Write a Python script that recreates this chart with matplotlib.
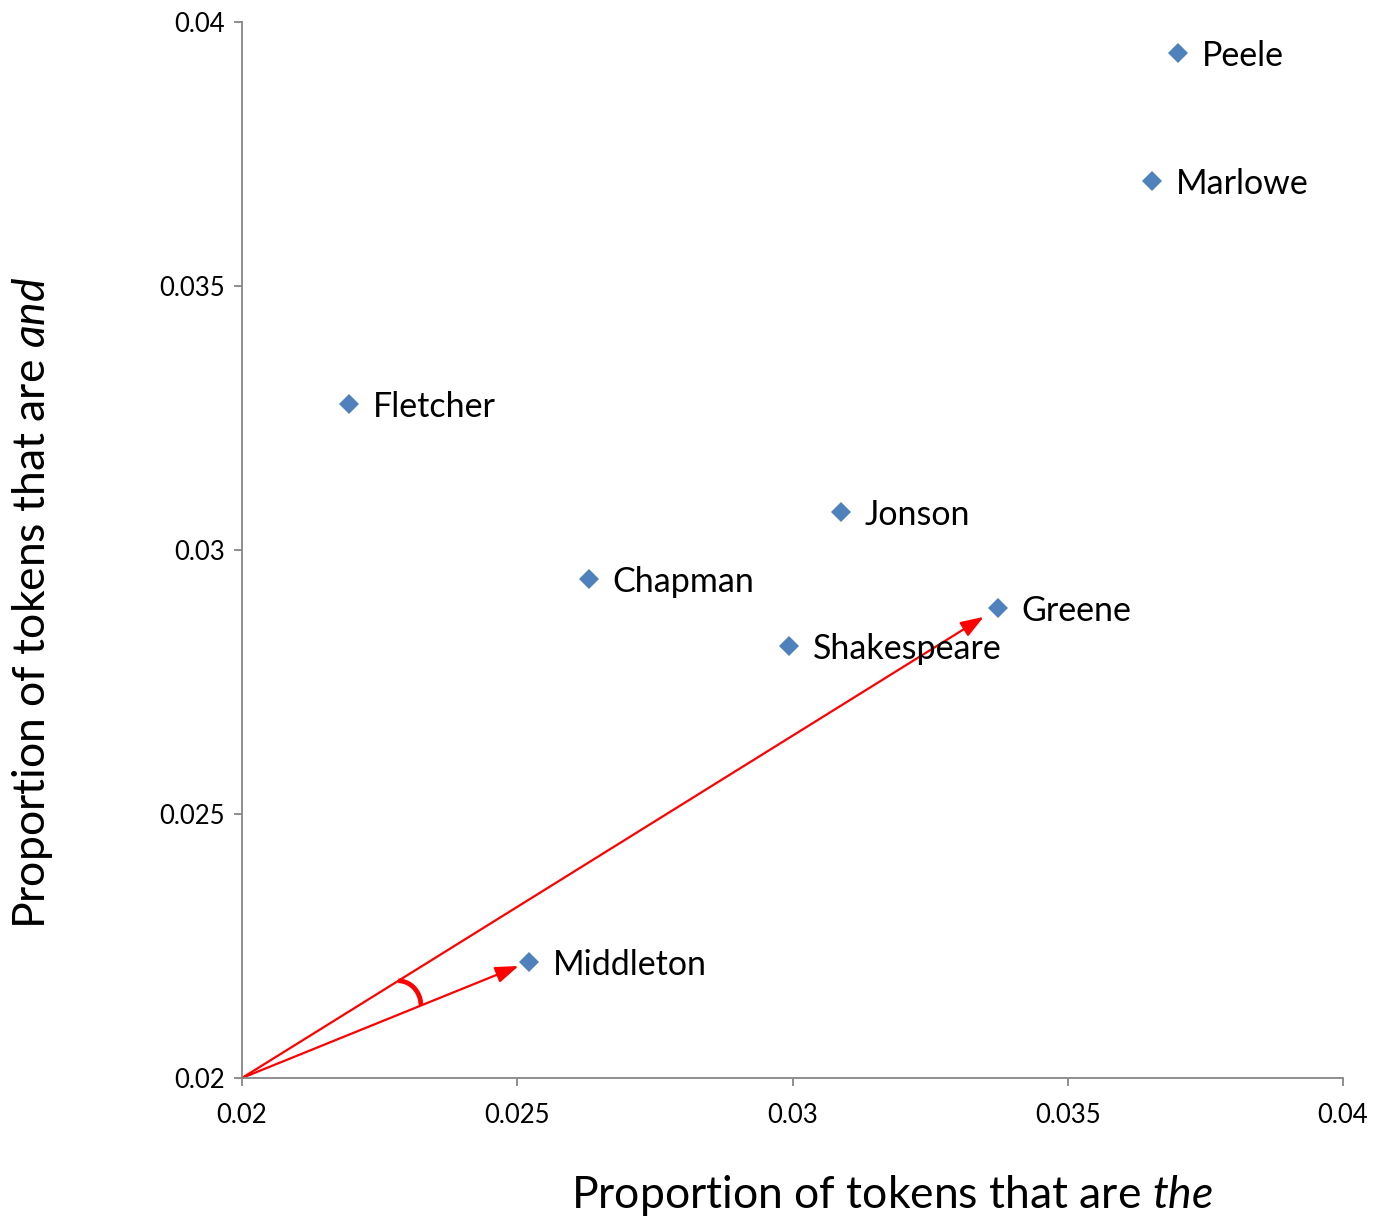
import numpy as np
import matplotlib
matplotlib.use("Agg")
import matplotlib.pyplot as plt

plt.rcParams['font.family'] = ['Lato', 'DejaVu Sans']
plt.rcParams['mathtext.fontset'] = 'custom'
plt.rcParams['mathtext.rm'] = 'Lato'
plt.rcParams['mathtext.it'] = 'Lato:italic'

authors = ["Peele", "Marlowe", "Fletcher", "Jonson", "Chapman", "Greene", "Shakespeare", "Middleton"]
the_prop = [0.03700, 0.03653, 0.02194, 0.03088, 0.02630, 0.03373, 0.02994, 0.02521]
and_prop = [0.03941, 0.03699, 0.03277, 0.03072, 0.02945, 0.02890, 0.02818, 0.02220]
ticks = [0.02, 0.025, 0.03, 0.035, 0.04]
tick_labels = ["0.02", "0.025", "0.03", "0.035", "0.04"]
origin = (0.02, 0.02)
arrow_targets = ["Greene", "Middleton"]

W, H = 1374, 1222
fig = plt.figure(figsize=(W / 100, H / 100), dpi=100)
ax_l, ax_r, ax_b, ax_t = 242, 1343, 1078, 22
ax = fig.add_axes([ax_l / W, 1 - ax_b / H, (ax_r - ax_l) / W, (ax_b - ax_t) / H])

ax.set_xlim(0.02, 0.04)
ax.set_ylim(0.02, 0.04)

ax.plot(the_prop, and_prop, linestyle='none', marker='D', markersize=10.5,
        color='#4F81BD', markeredgewidth=0, zorder=3)
for name, x, y in zip(authors, the_prop, and_prop):
    ax.annotate(name, (x, y), xytext=(17, -2), textcoords='offset points',
                va='center', ha='left', fontsize=24.5, color='black')

# arrows
shrinks = {"Greene": 12, "Middleton": 8}
for name in arrow_targets:
    i = authors.index(name)
    ax.annotate('', xy=(the_prop[i], and_prop[i]), xytext=origin,
                arrowprops=dict(arrowstyle='-|>,head_length=0.7,head_width=0.25',
                                color='red', lw=1.6, shrinkA=0, shrinkB=shrinks[name],
                                mutation_scale=20), zorder=2)

# angle bracket arc between the two arrows
px_per_x = (ax_r - ax_l) / 0.02
px_per_y = (ax_b - ax_t) / 0.02
ig = authors.index("Greene"); im = authors.index("Middleton")
def unit(i):
    v = np.array([(the_prop[i] - origin[0]) * px_per_x, (and_prop[i] - origin[1]) * px_per_y])
    return v / np.hypot(*v)
p1 = unit(ig) * 184  # on Greene arrow (pixels from origin)
p2 = unit(im) * 193  # on Middleton arrow
cx, cy = p1[0], p2[1]
rx, ry = p2[0] - p1[0], p1[1] - p2[1]
t = np.linspace(np.pi / 2, 0, 40)
arc_x = cx + rx * np.cos(t)
arc_y = cy + ry * np.sin(t)
ax.plot(origin[0] + arc_x / px_per_x, origin[1] + arc_y / px_per_y,
        color='red', lw=3.4, solid_capstyle='butt', zorder=2)

ax.set_xticks(ticks)
ax.set_xticklabels(tick_labels)
ax.set_yticks(ticks)
ax.set_yticklabels(tick_labels)
for s in ['top', 'right']:
    ax.spines[s].set_visible(False)
for s in ['left', 'bottom']:
    ax.spines[s].set_color('#868686')
    ax.spines[s].set_linewidth(1.3)
ax.tick_params(direction='out', length=6, width=1.3, color='#868686',
               labelsize=18.5, pad=6, labelcolor='black')
ax.tick_params(axis='x', pad=12)

fig.text(892 / W, 1 - 1195 / H, r"Proportion of tokens that are $\mathit{the}$",
         fontsize=32, ha='center', va='center')
fig.text(33 / W, 1 - 603 / H, r"Proportion of tokens that are $\mathit{and}$",
         fontsize=32, ha='center', va='center', rotation=90)

fig.savefig("out.png", dpi=100)
